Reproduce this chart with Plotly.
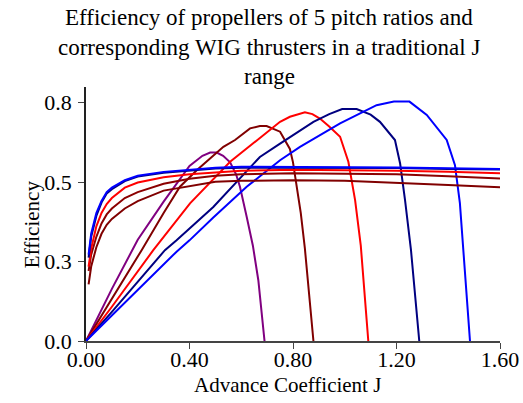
import plotly.graph_objects as go

# WIG thruster curves (flat)
flat_J = [0.01, 0.02, 0.04, 0.06, 0.08, 0.10, 0.15, 0.20, 0.30, 0.40, 0.50, 0.60, 0.80, 1.00, 1.20, 1.40, 1.60]
wig_blue = [0.29, 0.36, 0.43, 0.47, 0.50, 0.515, 0.54, 0.555, 0.568, 0.575, 0.582, 0.585, 0.585, 0.585, 0.583, 0.58, 0.578]
wig_navy = [0.28, 0.35, 0.42, 0.465, 0.495, 0.51, 0.537, 0.552, 0.565, 0.572, 0.579, 0.582, 0.582, 0.582, 0.581, 0.578, 0.576]
wig_red = [0.25, 0.31, 0.385, 0.43, 0.46, 0.48, 0.515, 0.532, 0.55, 0.56, 0.566, 0.572, 0.575, 0.574, 0.572, 0.568, 0.563]
wig_maroon1 = [0.235, 0.29, 0.35, 0.395, 0.425, 0.445, 0.48, 0.50, 0.528, 0.545, 0.555, 0.56, 0.563, 0.562, 0.56, 0.553, 0.546]
wig_maroon2 = [0.19, 0.25, 0.315, 0.36, 0.39, 0.41, 0.445, 0.47, 0.505, 0.52, 0.535, 0.538, 0.54, 0.538, 0.532, 0.524, 0.516]

# Propeller curves
purple_J = [0, 0.1, 0.2, 0.3, 0.4, 0.45, 0.48, 0.505, 0.53, 0.557, 0.58, 0.595, 0.621, 0.645, 0.666, 0.69]
purple_eff = [0, 0.175, 0.34, 0.468, 0.588, 0.622, 0.633, 0.633, 0.622, 0.6, 0.56, 0.518, 0.417, 0.32, 0.204, 0.0]

maroon_J = [0, 0.1, 0.215, 0.3, 0.363, 0.43, 0.492, 0.531, 0.576, 0.634, 0.672, 0.698, 0.75, 0.788, 0.80, 0.815, 0.83, 0.846, 0.862, 0.879]
maroon_eff = [0, 0.14, 0.305, 0.43, 0.518, 0.575, 0.624, 0.652, 0.675, 0.714, 0.722, 0.722, 0.703, 0.645, 0.60, 0.51, 0.43, 0.31, 0.16, 0.0]

red_J = [0, 0.1, 0.26, 0.402, 0.557, 0.66, 0.75, 0.788, 0.827, 0.846, 0.875, 0.904, 0.94, 0.982, 1.014, 1.04, 1.062, 1.075, 1.091]
red_eff = [0, 0.115, 0.305, 0.462, 0.602, 0.675, 0.736, 0.753, 0.764, 0.768, 0.762, 0.747, 0.72, 0.686, 0.602, 0.473, 0.32, 0.17, 0.0]

navy_J = [0, 0.1, 0.305, 0.35, 0.492, 0.672, 0.75, 0.827, 0.879, 0.94, 0.99, 1.046, 1.1, 1.136, 1.194, 1.214, 1.233, 1.256, 1.272, 1.288]
navy_eff = [0, 0.098, 0.305, 0.338, 0.45, 0.618, 0.663, 0.708, 0.736, 0.762, 0.779, 0.779, 0.76, 0.736, 0.675, 0.596, 0.473, 0.305, 0.16, 0.0]

blue_J = [0, 0.1, 0.2, 0.35, 0.4, 0.492, 0.621, 0.75, 0.827, 0.982, 1.123, 1.19, 1.25, 1.317, 1.394, 1.426, 1.445, 1.458, 1.47, 1.484]
blue_eff = [0, 0.085, 0.17, 0.3, 0.338, 0.415, 0.518, 0.607, 0.652, 0.731, 0.792, 0.804, 0.804, 0.759, 0.675, 0.59, 0.463, 0.305, 0.16, 0.0]

x_ticks = [0, 0.4, 0.8, 1.2, 1.6]
x_ticktext = ["0.00", "0.40", "0.80", "1.20", "1.60"]
y_ticks = [0, 0.8 / 3, 1.6 / 3, 0.8]
y_ticktext = ["0.0", "0.3", "0.5", "0.8"]

title_lines = [
    "Efficiency of propellers of 5 pitch ratios and",
    "corresponding WIG thrusters in a traditional J",
    "range",
]

FONT = "Liberation Serif, Times New Roman, serif"

fig = go.Figure()
props = [
    (purple_J, purple_eff, "#800080"),
    (maroon_J, maroon_eff, "#800000"),
    (red_J, red_eff, "#FF0000"),
    (navy_J, navy_eff, "#000080"),
    (blue_J, blue_eff, "#0000FF"),
]
for xs, ys, c in props:
    fig.add_trace(go.Scatter(x=xs, y=ys, mode="lines", line=dict(color=c, width=2), showlegend=False))

wigs = [
    (wig_maroon2, "#800000"),
    (wig_maroon1, "#8B0000"),
    (wig_red, "#FF0000"),
    (wig_navy, "#000080"),
    (wig_blue, "#0000FF"),
]
for ys, c in wigs:
    fig.add_trace(go.Scatter(x=flat_J, y=ys, mode="lines", line=dict(color=c, width=2), showlegend=False))

PLOT_TOP, PLOT_BOT, PLOT_L, PLOT_R = 87, 340.7, 86, 500
PH = PLOT_BOT - PLOT_TOP
PW = PLOT_R - PLOT_L

annotations = []
for i, (line, yc) in enumerate(zip(title_lines, [18, 48, 77])):
    annotations.append(dict(
        text=line, xref="paper", yref="paper",
        x=(269 - PLOT_L) / PW, y=(PLOT_BOT - yc) / PH,
        xanchor="center", yanchor="middle", showarrow=False,
        font=dict(family=FONT, size=23, color="black")))
annotations.append(dict(
    text="Advance Coefficient J", xref="paper", yref="paper",
    x=(287 - PLOT_L) / PW, y=-(385 - PLOT_BOT) / PH, xanchor="center", yanchor="middle",
    showarrow=False, font=dict(family=FONT, size=21, color="black")))
annotations.append(dict(
    text="Efficiency", xref="paper", yref="paper",
    x=(32 - PLOT_L) / PW, y=(PLOT_BOT - 224) / PH, xanchor="center", yanchor="middle",
    textangle=-90, showarrow=False, font=dict(family=FONT, size=21, color="black")))

fig.update_layout(
    width=523, height=403,
    margin=dict(l=PLOT_L, r=523 - PLOT_R, t=PLOT_TOP, b=403 - PLOT_BOT),
    paper_bgcolor="white", plot_bgcolor="white",
    font=dict(family=FONT, color="black", size=21),
    xaxis=dict(
        range=[0, 1.6], tickvals=x_ticks, ticktext=x_ticktext, automargin=False,
        showline=True, linecolor="#444", linewidth=1.5,
        ticks="outside", ticklen=6, tickcolor="#444",
        showgrid=False, zeroline=False, ticklabelstandoff=-8,
        tickfont=dict(family=FONT, size=22, color="black"),
    ),
    yaxis=dict(
        range=[0, 0.853], tickvals=y_ticks, ticktext=y_ticktext, automargin=False,
        showline=True, linecolor="#222", linewidth=1.5,
        ticks="outside", ticklen=6, tickcolor="#444",
        showgrid=False, zeroline=False, ticklabelstandoff=2,
        tickfont=dict(family=FONT, size=22, color="black"),
    ),
    annotations=annotations,
)

fig.write_html("out.html")
